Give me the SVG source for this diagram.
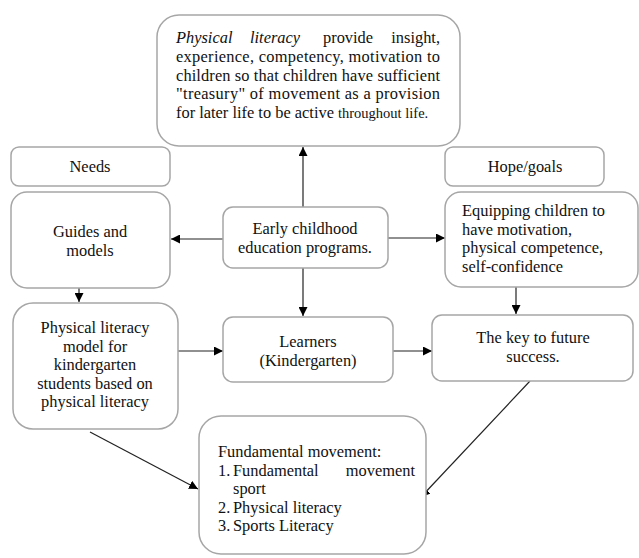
<svg xmlns="http://www.w3.org/2000/svg" width="639" height="558" viewBox="0 0 639 558">
<defs>
<style>
.box{fill:#fff;stroke:#a6a6a6;stroke-width:1.5}
.t text{font-size:16.4px;fill:#111}
.c{text-anchor:middle}
.ln{stroke:#222;stroke-width:1.2;fill:none}
</style>
<marker id="ah" viewBox="0 0 10 10" refX="10" refY="5" markerWidth="9" markerHeight="9" markerUnits="userSpaceOnUse" orient="auto">
<path d="M0,0 L10,5 L0,10 Z" fill="#000"/>
</marker>
</defs>
<rect width="639" height="558" fill="#fff"/>
<g id="connectors">
<line class="ln" x1="303" y1="207" x2="303" y2="147" marker-end="url(#ah)"/>
<line class="ln" x1="223" y1="239" x2="171" y2="239" marker-end="url(#ah)"/>
<line class="ln" x1="388" y1="238" x2="445" y2="238" marker-end="url(#ah)"/>
<line class="ln" x1="303" y1="268" x2="303" y2="316" marker-end="url(#ah)"/>
<line class="ln" x1="79" y1="288" x2="79" y2="302" marker-end="url(#ah)"/>
<line class="ln" x1="516" y1="287" x2="516" y2="314" marker-end="url(#ah)"/>
<line class="ln" x1="178" y1="351" x2="223" y2="351" marker-end="url(#ah)"/>
<line class="ln" x1="393" y1="351" x2="432" y2="351" marker-end="url(#ah)"/>
<line class="ln" x1="90" y1="432" x2="198" y2="489" marker-end="url(#ah)"/>
<line class="ln" x1="530" y1="381" x2="421" y2="497" marker-end="url(#ah)"/>
</g>
<g class="t" font-family="'Liberation Serif', 'Times New Roman', 'DejaVu Serif', serif">
<g id="top">
<rect class="box" x="157" y="15" width="303" height="131" rx="22"/>
<text x="176" y="43" font-style="italic">Physical</text>
<text x="250" y="43" font-style="italic">literacy</text>
<text x="323" y="43">provide</text>
<text x="440" y="43" text-anchor="end">insight,</text>
<text x="176" y="62" textLength="264" lengthAdjust="spacing">experience, competency, motivation to</text>
<text x="176" y="80.5" textLength="264" lengthAdjust="spacing">children so that children have sufficient</text>
<text x="176" y="99" textLength="264" lengthAdjust="spacing">"treasury" of movement as a provision</text>
<text x="176" y="117.5">for later life to be active <tspan font-size="14.5">throughout life.</tspan></text>
</g>
<g id="needs">
<rect class="box" x="11" y="147" width="159" height="39" rx="8"/>
<text class="c" x="90" y="172">Needs</text>
</g>
<g id="hope">
<rect class="box" x="445" y="147" width="159" height="39" rx="8"/>
<text class="c" x="525" y="172">Hope/goals</text>
</g>
<g id="guides">
<rect class="box" x="11" y="192" width="159" height="96" rx="16"/>
<text class="c" x="90" y="237">Guides and</text>
<text class="c" x="90" y="256">models</text>
</g>
<g id="early">
<rect class="box" x="223" y="207" width="165" height="61" rx="10"/>
<text class="c" x="305" y="234">Early childhood</text>
<text class="c" x="305" y="253">education programs.</text>
</g>
<g id="equipping">
<rect class="box" x="445" y="192" width="193" height="95" rx="16"/>
<text x="462" y="216">Equipping children to</text>
<text x="462" y="234.5">have motivation,</text>
<text x="462" y="253">physical competence,</text>
<text x="462" y="271.5">self-confidence</text>
</g>
<g id="model">
<rect class="box" x="13" y="303" width="165" height="126" rx="20"/>
<text class="c" x="95" y="333">Physical literacy</text>
<text class="c" x="95" y="351.5">model for</text>
<text class="c" x="95" y="370">kindergarten</text>
<text class="c" x="95" y="388.5">students based on</text>
<text class="c" x="95" y="407">physical literacy</text>
</g>
<g id="learners">
<rect class="box" x="223" y="317" width="170" height="65" rx="10"/>
<text class="c" x="308" y="347">Learners</text>
<text class="c" x="308" y="366">(Kindergarten)</text>
</g>
<g id="key">
<rect class="box" x="432" y="315" width="201" height="66" rx="10"/>
<text class="c" x="533" y="343">The key to future</text>
<text class="c" x="533" y="362">success.</text>
</g>
<g id="fundamental">
<rect class="box" x="199" y="416" width="227" height="138" rx="22"/>
<text x="218" y="457">Fundamental movement:</text>
<text x="218" y="475.5">1.</text>
<text x="233" y="475.5">Fundamental</text>
<text x="415" y="475.5" text-anchor="end">movement</text>
<text x="233" y="494">sport</text>
<text x="218" y="512.5">2.</text>
<text x="233" y="512.5">Physical literacy</text>
<text x="218" y="531">3.</text>
<text x="233" y="531">Sports Literacy</text>
</g>
</g>
</svg>
